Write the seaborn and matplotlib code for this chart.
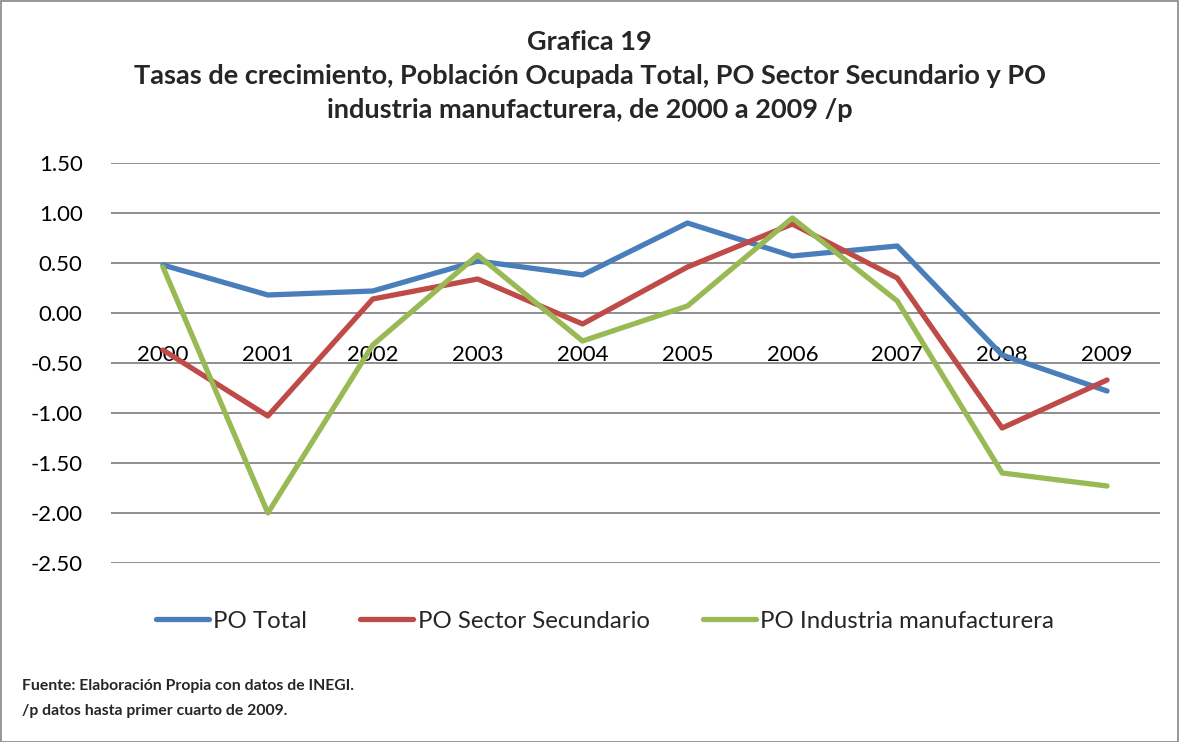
import matplotlib
matplotlib.use("Agg")
import matplotlib.pyplot as plt
import matplotlib.patches as mpatches
import seaborn as sns
import pandas as pd

years = ["2000", "2001", "2002", "2003", "2004", "2005", "2006", "2007", "2008", "2009"]
po_total = [0.48, 0.18, 0.22, 0.52, 0.38, 0.90, 0.57, 0.67, -0.42, -0.78]
po_secundario = [-0.37, -1.03, 0.14, 0.34, -0.11, 0.46, 0.89, 0.35, -1.15, -0.67]
po_manufacturera = [0.46, -2.00, -0.32, 0.58, -0.28, 0.07, 0.95, 0.12, -1.60, -1.73]
series_names = ["PO Total", "PO Sector Secundario", "PO Industria manufacturera"]
colors = ["#4A7EBB", "#BE4B48", "#98B954"]
y_ticks = [1.5, 1.0, 0.5, 0.0, -0.5, -1.0, -1.5, -2.0, -2.5]

rows = []
for name, vals in zip(series_names, [po_total, po_secundario, po_manufacturera]):
    for i, v in enumerate(vals):
        rows.append({"pos": i, "year": years[i], "serie": name, "valor": v})
df = pd.DataFrame(rows)

sns.set_theme(style="white")
plt.rcParams["font.family"] = ["Lato", "DejaVu Sans"]

W, H = 1179, 742
fig = plt.figure(figsize=(W / 100, H / 100), dpi=100)
ax = fig.add_axes([110.5 / W, 1 - 563 / H, 1049 / W, 400 / H])

sns.lineplot(data=df, x="pos", y="valor", hue="serie", palette=colors,
             hue_order=series_names, linewidth=3.8, ax=ax, legend=False,
             solid_capstyle="round")

for s in ["left", "right", "top"]:
    ax.spines[s].set_visible(False)
ax.spines["bottom"].set_position(("data", 0))
ax.spines["bottom"].set_color("none")

ax.set_xlim(-0.5, 9.5)
ax.set_ylim(-2.5, 1.5)
ax.set_yticks(y_ticks)
ax.set_yticklabels([f"{t:.2f}" for t in y_ticks], fontsize=16, color="black")
ax.set_xticks(range(len(years)))
ax.set_xticklabels(years, fontsize=16, color="black")
ax.tick_params(axis="y", length=0, pad=20)
ax.tick_params(axis="x", length=0, pad=23)
ax.grid(axis="y", color="#868686", linewidth=1.3)
ax.set_axisbelow(True)
ax.set_xlabel("")
ax.set_ylabel("")

# legend
handles = [plt.Line2D([0], [0], color=c, linewidth=3.8, solid_capstyle="round") for c in colors]
fig.legend(handles, series_names, loc="center", bbox_to_anchor=(605 / W, 1 - 621 / H),
           ncol=3, frameon=False, fontsize=17.3, handlelength=2.2, columnspacing=2.2,
           handletextpad=0.2)

# titles
tfs = 19.5
fig.text(0.5, 1 - 42 / H, "Grafica 19", ha="center", va="center",
         fontsize=tfs, fontweight="bold")
fig.text(0.5, 1 - 76 / H,
         "Tasas de crecimiento, Población Ocupada Total, PO Sector Secundario y PO",
         ha="center", va="center", fontsize=tfs, fontweight="bold")
fig.text(0.5, 1 - 110 / H, "industria manufacturera, de 2000 a 2009 /p",
         ha="center", va="center", fontsize=tfs, fontweight="bold")

# footnotes
fig.text(22 / W, 1 - 686 / H, "Fuente: Elaboración Propia con datos de INEGI.",
         ha="left", va="center", fontsize=11.3, fontweight="bold")
fig.text(22 / W, 1 - 711 / H, "/p datos hasta primer cuarto de 2009.",
         ha="left", va="center", fontsize=11.3, fontweight="bold")

# border
fig.patches.append(mpatches.Rectangle((0.5 / W, 0.5 / H), 1 - 1.5 / W, 1 - 1.5 / H,
                                      transform=fig.transFigure, fill=False,
                                      edgecolor="#868686", linewidth=1.2))

fig.savefig("out.png", dpi=100)
